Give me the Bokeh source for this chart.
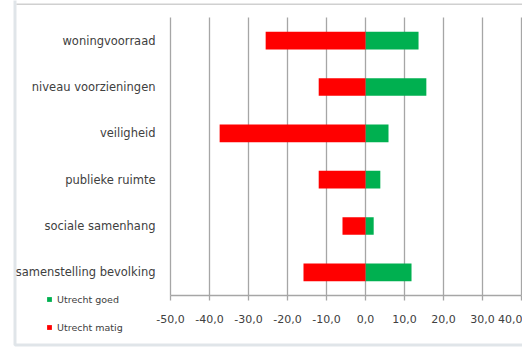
from bokeh.plotting import figure
from bokeh.models import (ColumnDataSource, Range1d, FixedTicker,
                          CustomJSTickFormatter, Legend, LegendItem, BoxAnnotation)
from bokeh.core.properties import value
from bokeh.embed import file_html
from bokeh.resources import INLINE

categories = ["woningvoorraad", "niveau voorzieningen", "veiligheid",
              "publieke ruimte", "sociale samenhang", "samenstelling bevolking"]
goed = [13.6, 15.6, 5.9, 3.8, 2.1, 11.8]
matig = [-25.6, -12.0, -37.4, -12.0, -5.9, -15.9]
x_ticks = [-50, -40, -30, -20, -10, 0, 10, 20, 30, 40]
series_names = ["Utrecht goed", "Utrecht matig"]

GREEN = "#00b050"
RED = "#ff0000"
GRID = "#a6a6a6"
TEXT = "#404040"
BORDER = "#98a9b7"
FONT = "DejaVu Sans"

# ---- layout (canvas pixels); the frame covers the whole canvas ----
W, H = 522, 351
PLOT_L, PLOT_R = 170, 521      # where the value axis starts / ends
PLOT_T, PLOT_B = 17, 295       # top of first category band / bottom of last one
x_min, x_max = x_ticks[0], x_ticks[-1]
ppx = (PLOT_R - PLOT_L) / (x_max - x_min)
n = len(categories)
ppy = (PLOT_B - PLOT_T) / n

ypos = [n - i - 0.5 for i in range(n)]   # category band centres (top -> bottom)
src = ColumnDataSource(dict(cat=categories, y=ypos, goed=goed, matig=matig,
                            lx=[x_min] * n))

p = figure(width=W, height=H, output_backend="svg", toolbar_location=None,
           x_range=Range1d(x_min - PLOT_L / ppx, x_max + (W - PLOT_R) / ppx),
           y_range=Range1d(-(H - PLOT_B) / ppy, n + PLOT_T / ppy),
           y_axis_location=None,
           min_border_left=0, min_border_right=0, min_border_top=0, min_border_bottom=0)
p.outline_line_color = None
p.background_fill_color = "white"
p.border_fill_color = "white"
p.xgrid.grid_line_color = None
p.ygrid.grid_line_color = None

# vertical gridlines over the category area
p.segment(x0=x_ticks, y0=[0] * len(x_ticks), x1=x_ticks, y1=[n] * len(x_ticks),
          line_color=GRID, line_width=1.3)

r_goed = p.hbar(y="y", left=0, right="goed", height=0.38, source=src,
                fill_color=GREEN, line_color=None)
r_matig = p.hbar(y="y", left="matig", right=0, height=0.38, source=src,
                 fill_color=RED, line_color=None)

# category labels
p.text(x="lx", y="y", text="cat", source=src, x_offset=-15,
       text_align="right", text_baseline="middle", text_font=value(FONT),
       text_font_size="11.5px", text_color=TEXT)

# value axis, drawn at the bottom edge of the last category band
ax = p.xaxis[0]
ax.fixed_location = 0
ax.ticker = FixedTicker(ticks=x_ticks)
ax.bounds = (x_min, x_max)
ax.formatter = CustomJSTickFormatter(code="return tick.toFixed(1).replace('.', ',');")
ax.axis_line_color = GRID
ax.axis_line_width = 1.3
ax.major_tick_line_color = GRID
ax.major_tick_line_width = 1.3
ax.major_tick_out = 5
ax.major_tick_in = 0
ax.minor_tick_line_color = None
ax.major_label_text_font = FONT
ax.major_label_text_font_size = "11px"
ax.major_label_text_color = TEXT
ax.major_label_standoff = 14

# legend at the lower left
legend = Legend(items=[LegendItem(label=series_names[0], renderers=[r_goed]),
                       LegendItem(label=series_names[1], renderers=[r_matig])],
                location=(46, 18), padding=0, margin=0, spacing=16,
                glyph_width=6, glyph_height=6, label_height=12, label_standoff=5,
                label_text_font=FONT, label_text_font_size="9.5px",
                label_text_color=TEXT, border_line_color=None,
                background_fill_alpha=0)
p.add_layout(legend, "center")

# chart box border
p.add_layout(BoxAnnotation(left=14.5, right=W + 20, top=6.5, bottom=H + 20,
                           left_units="screen", right_units="screen",
                           top_units="screen", bottom_units="screen",
                           fill_alpha=0, line_color=BORDER, line_width=3))
p.add_layout(BoxAnnotation(left=16, right=W + 20, top=346.5, bottom=348,
                           left_units="screen", right_units="screen",
                           top_units="screen", bottom_units="screen",
                           fill_color="#d0d0d0", fill_alpha=1, line_color=None))

open("out.html", "w").write(file_html(p, INLINE))
